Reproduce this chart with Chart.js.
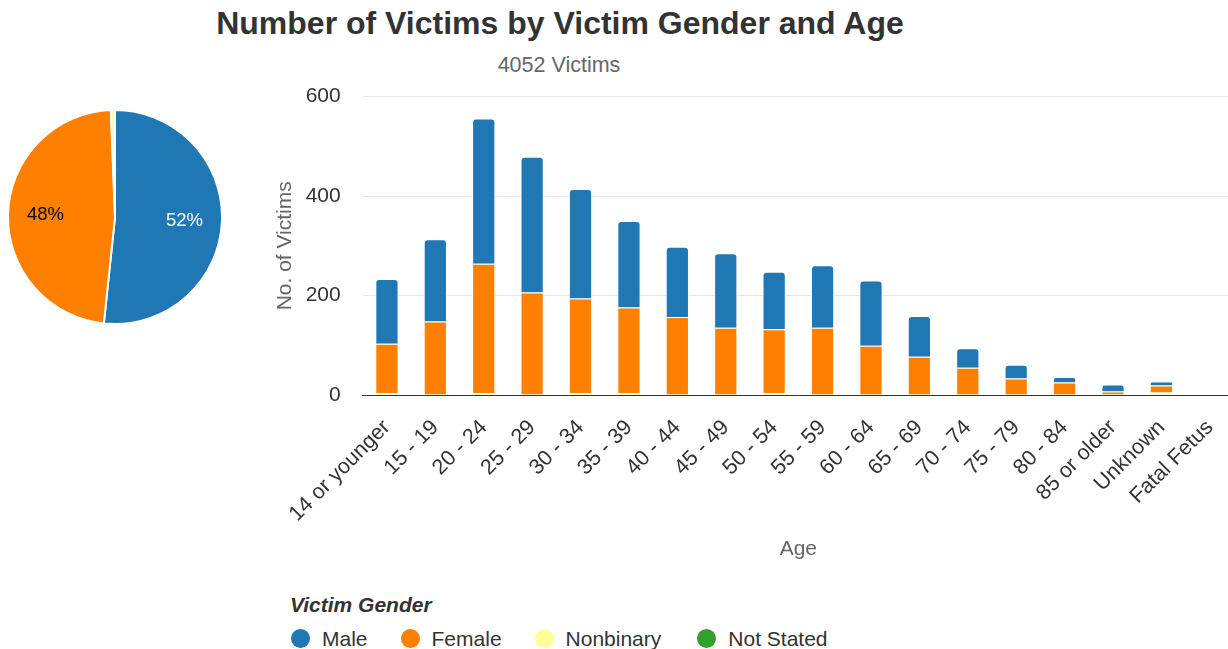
<!DOCTYPE html>
<html>
<head>
<meta charset="utf-8">
<script src="https://cdn.jsdelivr.net/npm/chart.js@4.4.1/dist/chart.umd.min.js"></script>
<style>
  body { margin: 0; background: #fff; font-family: "Liberation Sans", Arial, sans-serif; }
  #wrap { position: relative; width: 1228px; height: 649px; overflow: hidden; }
  .title { position: absolute; left: 0; width: 1120px; top: 5px; text-align: center; font-size: 32px; font-weight: bold; color: #333; }
  .subtitle { position: absolute; left: 0; width: 1118px; top: 53px; text-align: center; font-size: 21.5px; color: #666; }
  #pieBox { position: absolute; left: 7px; top: 109px; width: 216px; height: 216px; }
  #barBox { position: absolute; left: 271px; top: 62px; width: 977px; height: 500px; }
  .legend-title { position: absolute; left: 290px; top: 593px; font-size: 21px; font-weight: bold; font-style: italic; color: #333; }
  .legend { position: absolute; left: 291px; top: 627px; font-size: 21px; color: #333; white-space: nowrap; }
  .legend span.item { display: inline-block; margin-right: 33px; }
  .legend span.item:nth-child(3) { margin-right: 36px; }
  .legend span.dot { display: inline-block; width: 19px; height: 19px; border-radius: 50%; vertical-align: -2px; margin-right: 12px; }
</style>
</head>
<body>
<div id="wrap">
  <div class="title">Number of Victims by Victim Gender and Age</div>
  <div class="subtitle">4052 Victims</div>
  <div id="pieBox"><canvas id="chartPie"></canvas></div>
  <div id="barBox"><canvas id="chartBar"></canvas></div>
  <div class="legend-title">Victim Gender</div>
  <div class="legend" id="legend"></div>
</div>
<script>
// Data
let ageGroups = ['14 or younger', '15 - 19', '20 - 24', '25 - 29', '30 - 34', '35 - 39', '40 - 44', '45 - 49',
  '50 - 54', '55 - 59', '60 - 64', '65 - 69', '70 - 74', '75 - 79', '80 - 84', '85 or older', 'Unknown', 'Fatal Fetus'];
let maleVictims = [130, 165, 292, 273, 220, 174, 141, 150, 116, 126, 131, 82, 39, 28, 11, 14, 8, 0];
let femaleVictims = [99, 148, 260, 206, 190, 172, 157, 135, 128, 135, 99, 77, 55, 33, 25, 7, 14, 0];
let nonbinaryVictims = [4, 0, 4, 0, 4, 4, 0, 0, 4, 0, 0, 0, 0, 0, 0, 0, 5, 0];
let notStatedVictims = [0, 0, 0, 0, 0, 0, 0, 0, 0, 0, 0, 0, 0, 0, 0, 0, 0, 0];
let genderLabels = ['Male', 'Female', 'Nonbinary', 'Not Stated'];
let yTicks = [0, 200, 400, 600];

let genderColors = ['#1f77b4', '#ff7f00', '#ffff99', '#33a02c'];
let font = '"Liberation Sans", Arial, sans-serif';

let sum = (arr) => arr.reduce((a, b) => a + b, 0);

// html legend shared by both charts
let legendEl = document.getElementById('legend');
genderLabels.forEach((g, i) => {
  let item = document.createElement('span');
  item.className = 'item';
  item.innerHTML = '<span class="dot" style="background:' + genderColors[i] + '"></span>' + g;
  legendEl.appendChild(item);
});

// Pie chart
let pieLabels = {
  id: 'pieLabels',
  afterDatasetsDraw(chart) {
    let ctx = chart.ctx;
    let meta = chart.getDatasetMeta(0);
    let data = chart.data.datasets[0].data;
    let total = sum(data);
    ctx.save();
    ctx.font = '18.5px ' + font;
    ctx.textAlign = 'center';
    ctx.textBaseline = 'middle';
    meta.data.forEach((arc, i) => {
      let pct = data[i] / total * 100;
      if (pct < 5) return;
      let mid = (arc.startAngle + arc.endAngle) / 2;
      let r = arc.outerRadius * 0.65;
      ctx.fillStyle = i === 0 ? '#fff' : '#000';
      ctx.fillText(Math.round(pct) + '%', arc.x + Math.cos(mid) * r, arc.y + Math.sin(mid) * r);
    });
    ctx.restore();
  }
};

let chartPie = new Chart(document.getElementById('chartPie'), {
  type: 'pie',
  data: {
    labels: genderLabels,
    datasets: [{
      data: [sum(maleVictims), sum(femaleVictims), sum(nonbinaryVictims), sum(notStatedVictims)],
      backgroundColor: genderColors,
      borderColor: '#fff',
      borderWidth: 2,
      hoverOffset: 0
    }]
  },
  options: {
    responsive: true,
    maintainAspectRatio: false,
    animation: false,
    layout: { padding: 0 },
    plugins: { legend: { display: false }, tooltip: { enabled: false } }
  },
  plugins: [pieLabels]
});

// Bar chart, stacked bottom to top (right part runs past the page edge, as in the original)
let chartBar = new Chart(document.getElementById('chartBar'), {
  type: 'bar',
  data: {
    labels: ageGroups,
    datasets: [
      { label: 'Not Stated', data: notStatedVictims, backgroundColor: genderColors[3], borderColor: '#fff', borderWidth: 1 },
      { label: 'Nonbinary', data: nonbinaryVictims, backgroundColor: genderColors[2], borderColor: '#fff', borderWidth: 1 },
      { label: 'Female', data: femaleVictims, backgroundColor: genderColors[1], borderColor: '#fff', borderWidth: 1 },
      { label: 'Male', data: maleVictims, backgroundColor: genderColors[0], borderColor: '#fff', borderWidth: 1,
        borderRadius: { topLeft: 4, topRight: 4, bottomLeft: 0, bottomRight: 0 }, borderSkipped: 'bottom' }
    ]
  },
  options: {
    responsive: true,
    maintainAspectRatio: false,
    animation: false,
    layout: { padding: 0, autoPadding: false },
    categoryPercentage: 0.48,
    barPercentage: 1,
    plugins: { legend: { display: false }, tooltip: { enabled: false } },
    scales: {
      x: {
        stacked: true,
        grid: { display: false, drawTicks: false },
        border: { color: '#333', width: 1 },
        ticks: { color: '#333', font: { family: font, size: 21.5 }, minRotation: 45, maxRotation: 45, padding: 20, autoSkip: false },
        title: { display: true, text: 'Age', color: '#666', font: { family: font, size: 21 }, padding: 0 },
        afterFit: (s) => { s.height = 167; }
      },
      y: {
        stacked: true,
        min: 0,
        max: 600,
        afterBuildTicks: (s) => { s.ticks = yTicks.map(v => ({ value: v })); },
        grid: { color: '#e6e6e6', drawTicks: false },
        border: { display: false },
        ticks: { color: '#333', font: { family: font, size: 21 }, padding: 22 },
        title: { display: true, text: 'No. of Victims', color: '#666', font: { family: font, size: 21 }, padding: 0 },
        afterFit: (s) => { s.width = 90; }
      }
    }
  }
});
</script>
</body>
</html>
